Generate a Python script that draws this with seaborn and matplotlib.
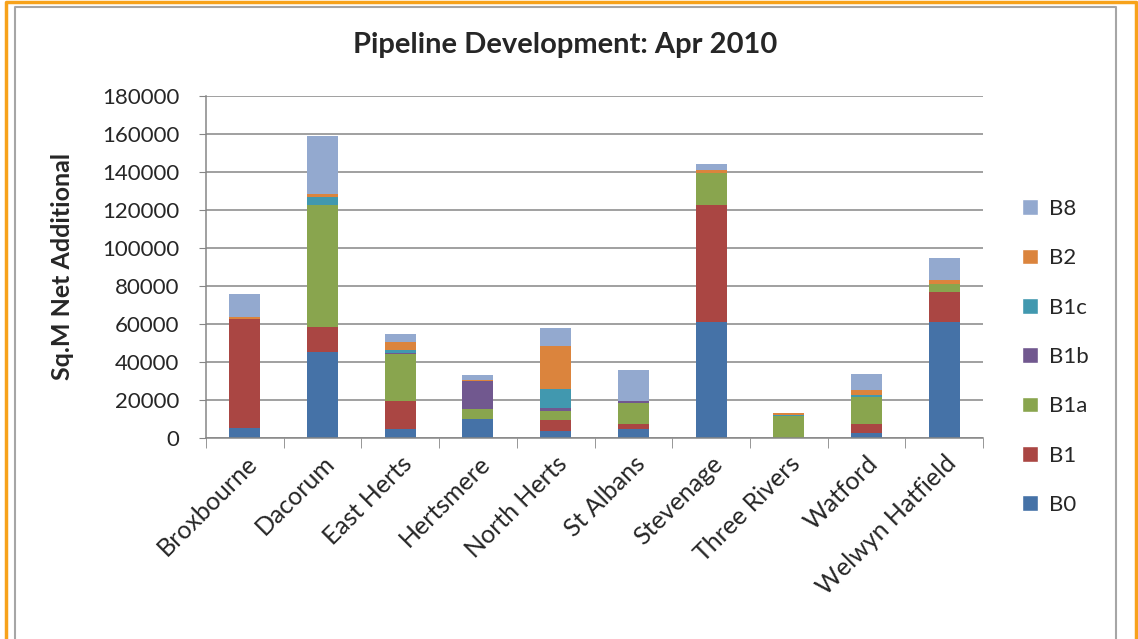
import matplotlib
matplotlib.use("Agg")
import matplotlib.pyplot as plt
import seaborn as sns
import pandas as pd
from matplotlib.patches import Patch
from matplotlib.lines import Line2D

areas = ['Broxbourne', 'Dacorum', 'East Herts', 'Hertsmere', 'North Herts',
         'St Albans', 'Stevenage', 'Three Rivers', 'Watford', 'Welwyn Hatfield']

b0 = [5000, 45000, 4500, 9800, 3500, 4700, 60600, 0, 2300, 60600]
b1 = [57400, 13300, 14700, 0, 5600, 2300, 62000, 0, 5100, 16100]
b1a = [0, 64300, 24700, 5100, 4900, 11000, 16600, 11600, 14100, 4000]
b1b = [0, 0, 500, 15000, 1400, 1400, 0, 0, 0, 0]
b1c = [0, 3800, 1800, 0, 10200, 0, 0, 500, 1000, 0]
b2 = [900, 1600, 4100, 300, 22800, 0, 1600, 700, 2500, 2300]
b8 = [12300, 30500, 4200, 2700, 9300, 16200, 3000, 300, 8300, 11600]

series = ['B0', 'B1', 'B1a', 'B1b', 'B1c', 'B2', 'B8']
colors = ['#4572A7', '#AA4643', '#89A54E', '#71588F', '#4198AF', '#DB843D', '#93A9CF']
y_ticks = [0, 20000, 40000, 60000, 80000, 100000, 120000, 140000, 160000, 180000]

df = pd.DataFrame({'area': areas, 'B0': b0, 'B1': b1, 'B1a': b1a, 'B1b': b1b,
                   'B1c': b1c, 'B2': b2, 'B8': b8})
cum = df[series].cumsum(axis=1)
cum['area'] = df['area']

sns.set_style("white")
plt.rcParams['font.family'] = ['Lato', 'DejaVu Sans']

fig = plt.figure(figsize=(11.38, 6.39), dpi=100)
ax = fig.add_axes([206 / 1138, 1 - 437.7 / 639, 777 / 1138, 342.2 / 639])

# stacked bars: draw the running totals from the top series down
for name, col in zip(series[::-1], colors[::-1]):
    sns.barplot(data=cum, x='area', y=name, color=col, width=0.4,
                saturation=1, linewidth=0, ax=ax)

grey = '#868686'
ax.set_ylim(0, 180000)
ax.set_xlim(-0.5, 9.5)
ax.set_yticks(y_ticks)
ax.yaxis.grid(True, color=grey, linewidth=1.1)
ax.set_axisbelow(True)
for s in ['top', 'right']:
    ax.spines[s].set_visible(False)
for s in ['left', 'bottom']:
    ax.spines[s].set_color(grey)
    ax.spines[s].set_linewidth(1.1)

ax.tick_params(axis='y', left=True, length=5, color=grey, pad=14, labelsize=16)
ax.set_xticks(range(len(areas)))
ax.set_xticks([i - 0.5 for i in range(len(areas) + 1)], minor=True)
ax.tick_params(axis='x', which='major', length=0, pad=10)
ax.tick_params(axis='x', which='minor', bottom=True, length=7, color=grey)
ax.set_xticklabels(areas, rotation=45, ha='right', rotation_mode='anchor', fontsize=18)

ax.set_xlabel('')
ax.set_ylabel('Sq.M Net Additional', fontsize=18, fontweight='bold')
ax.yaxis.set_label_coords(-0.17, 0.5)

fig.text(565 / 1138, 1 - 45 / 639, 'Pipeline Development: Apr 2010',
         ha='center', va='center', fontsize=21, fontweight='bold')

handles = [Patch(facecolor=c, label=n) for n, c in zip(series[::-1], colors[::-1])]
fig.legend(handles=handles, loc='upper left', bbox_to_anchor=(1022 / 1138, 1 - 199 / 639),
           frameon=False, fontsize=16, handlelength=0.7, handleheight=0.7,
           handletextpad=0.5, labelspacing=1.32, borderpad=0, borderaxespad=0)

# chart frame
fig.add_artist(Line2D([15 / 1138, 15 / 1138, 1116 / 1138, 1116 / 1138],
                      [0, 1 - 7 / 639, 1 - 7 / 639, 0], color='#A6A6A6', lw=1.5))
fig.add_artist(Line2D([6 / 1138, 6 / 1138, 1136 / 1138, 1136 / 1138],
                      [0, 1 - 1.5 / 639, 1 - 1.5 / 639, 0], color='#F7A21B', lw=2.5))

fig.savefig('out.png', dpi=100)
